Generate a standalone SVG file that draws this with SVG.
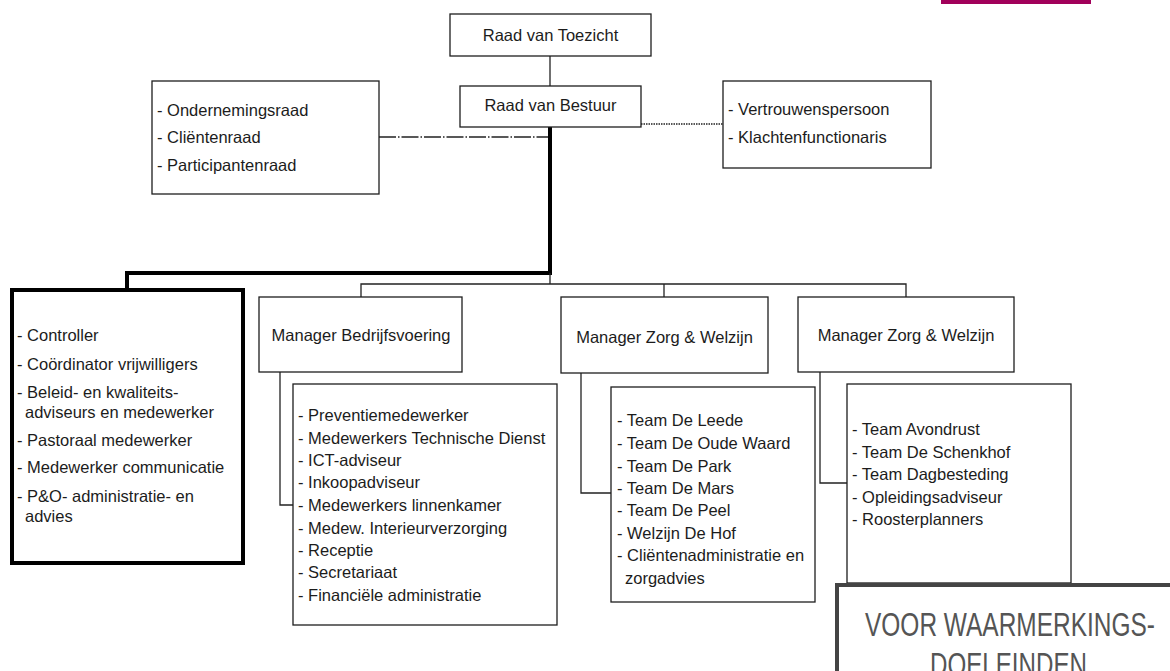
<svg xmlns="http://www.w3.org/2000/svg" width="1170" height="671" viewBox="0 0 1170 671">
<style>
text{font-family:"Liberation Sans",Arial,sans-serif;font-size:16.5px;fill:#1c1c1c}
.c{text-anchor:middle}
.box{fill:#fff;stroke:#1e1e1e;stroke-width:1.3}
.thick{fill:#fff;stroke:#000;stroke-width:4}
.ln{fill:none;stroke:#222;stroke-width:1.3}
.tl{fill:none;stroke:#000;stroke-width:4}
.stamp{font-family:"Liberation Sans Narrow","Liberation Sans",sans-serif;font-size:33px;fill:#555}
</style>
<rect width="1170" height="671" fill="#fff"/>
<rect x="941" y="0" width="150" height="4" fill="#a1005a"/>
<g id="connectors">
<line class="ln" x1="550" y1="56" x2="550" y2="86" stroke="#555"/>
<polyline class="tl" points="550,127 550,273 127,273 127,290"/>
<polyline class="ln" points="550,273 550,284"/>
<polyline class="ln" points="361,297 361,284 906,284 906,297"/>
<line class="ln" x1="664" y1="284" x2="664" y2="297"/>
<line class="ln" x1="379" y1="137" x2="548" y2="137" stroke-width="1.1" stroke-dasharray="17,2,1.5,2"/>
<line class="ln" x1="641" y1="124" x2="723" y2="124" stroke="#777" stroke-width="1" stroke-dasharray="1.5,1"/>
<polyline class="ln" points="280,372 280,505 293,505"/>
<polyline class="ln" points="581,373 581,493 611,493"/>
<polyline class="ln" points="820,372 820,483 847,483"/>
</g>
<g id="raad-toezicht">
<rect class="box" x="450" y="14" width="201" height="42"/>
<text class="c" x="550.5" y="41">Raad van Toezicht</text>
</g>
<g id="raad-bestuur">
<rect class="box" x="460" y="86" width="181" height="41"/>
<text class="c" x="550.5" y="111">Raad van Bestuur</text>
</g>
<g id="raden">
<rect class="box" x="152" y="81" width="227" height="113"/>
<text x="157" y="116">- Ondernemingsraad</text>
<text x="157" y="143">- Cliëntenraad</text>
<text x="157" y="171">- Participantenraad</text>
</g>
<g id="vertrouwen">
<rect class="box" x="723" y="81" width="208" height="87"/>
<text x="728" y="115">- Vertrouwenspersoon</text>
<text x="728" y="143">- Klachtenfunctionaris</text>
</g>
<g id="staf">
<rect class="thick" x="12" y="290" width="231" height="273"/>
<text x="17" y="341">- Controller</text>
<text x="17" y="370">- Coördinator vrijwilligers</text>
<text x="17" y="398">- Beleid- en kwaliteits-</text>
<text x="25" y="418">adviseurs en medewerker</text>
<text x="17" y="446">- Pastoraal medewerker</text>
<text x="17" y="473">- Medewerker communicatie</text>
<text x="17" y="502">- P&amp;O- administratie- en</text>
<text x="25" y="522">advies</text>
</g>
<g id="manager-bedrijfsvoering">
<rect class="box" x="259" y="297" width="203" height="75"/>
<text class="c" x="361" y="341">Manager Bedrijfsvoering</text>
</g>
<g id="manager-zorg-1">
<rect class="box" x="561" y="297" width="207" height="76"/>
<text class="c" x="664.5" y="343">Manager Zorg &amp; Welzijn</text>
</g>
<g id="manager-zorg-2">
<rect class="box" x="798" y="297" width="216" height="75"/>
<text class="c" x="906" y="341">Manager Zorg &amp; Welzijn</text>
</g>
<g id="bedrijfsvoering-teams">
<rect class="box" x="293" y="384" width="264" height="241"/>
<text x="298" y="421">- Preventiemedewerker</text>
<text x="298" y="444">- Medewerkers Technische Dienst</text>
<text x="298" y="466">- ICT-adviseur</text>
<text x="298" y="488">- Inkoopadviseur</text>
<text x="298" y="511">- Medewerkers linnenkamer</text>
<text x="298" y="534">- Medew. Interieurverzorging</text>
<text x="298" y="556">- Receptie</text>
<text x="298" y="578">- Secretariaat</text>
<text x="298" y="601">- Financiële administratie</text>
</g>
<g id="zorg-teams-1">
<rect class="box" x="611" y="387" width="204" height="215"/>
<text x="617" y="426">- Team De Leede</text>
<text x="617" y="449">- Team De Oude Waard</text>
<text x="617" y="472">- Team De Park</text>
<text x="617" y="494">- Team De Mars</text>
<text x="617" y="516">- Team De Peel</text>
<text x="617" y="539">- Welzijn De Hof</text>
<text x="617" y="561">- Cliëntenadministratie en</text>
<text x="625" y="584">zorgadvies</text>
</g>
<g id="zorg-teams-2">
<rect class="box" x="847" y="384" width="224" height="199"/>
<text x="852" y="435">- Team Avondrust</text>
<text x="852" y="458">- Team De Schenkhof</text>
<text x="852" y="480">- Team Dagbesteding</text>
<text x="852" y="503">- Opleidingsadviseur</text>
<text x="852" y="525">- Roosterplanners</text>
</g>
<g id="stempel">
<rect x="837" y="585" width="345" height="100" fill="#fff" stroke="#444" stroke-width="4"/>
<text class="stamp" x="865" y="636" textLength="290" lengthAdjust="spacingAndGlyphs">VOOR WAARMERKINGS-</text>
<text class="stamp" x="930" y="676" textLength="157" lengthAdjust="spacingAndGlyphs">DOELEINDEN</text>
</g>
</svg>
